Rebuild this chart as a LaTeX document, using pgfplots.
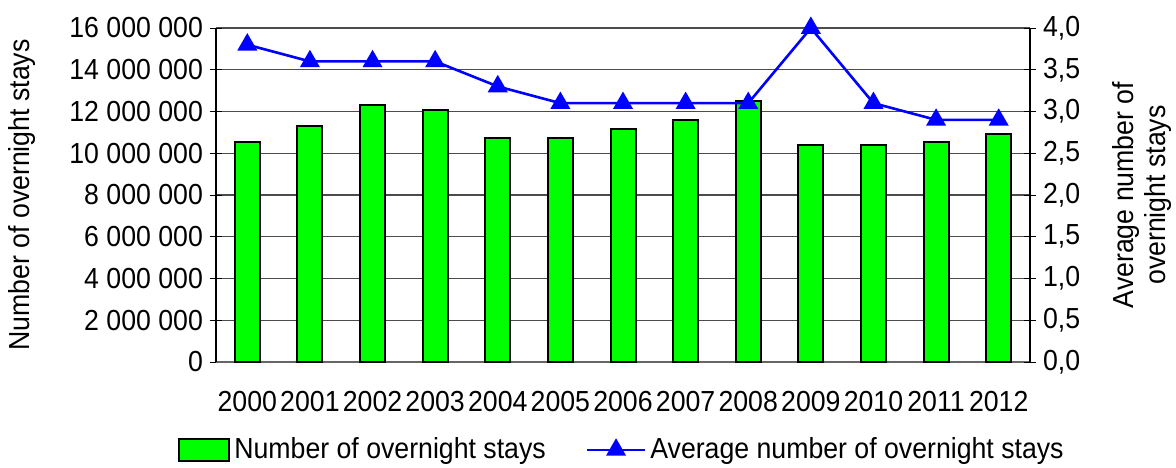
\documentclass[border=0pt]{standalone}
\usepackage{fontspec}
\setmainfont{Liberation Sans}[FakeStretch=0.92]
\usepackage{pgfplots}
\pgfplotsset{compat=1.18}
\usetikzlibrary{calc}
\definecolor{bargreen}{RGB}{0,255,0}
\definecolor{lineblue}{RGB}{0,0,255}
\begin{document}
\begin{tikzpicture}[font=\fontsize{14.5}{16}\selectfont]
\begin{axis}[name=ax1, scale only axis, width=407pt, height=167pt,
  xmin=-0.5, xmax=12.5, ymin=0, ymax=16000000,
  axis y line*=left, axis x line*=bottom,
  xtick={0,...,12},
  xticklabels={2000,2001,2002,2003,2004,2005,2006,2007,2008,2009,2010,2011,2012},
  x tick style={draw=none},
  minor xtick={-0.5,0.5,...,12.5},
  minor x tick style={black, thin},
  minor tick length=7pt,
  xticklabel style={yshift=-8pt},
  ytick distance=2000000,
  scaled y ticks=false,
  y tick label style={/pgf/number format/.cd, fixed, 1000 sep={\ }, assume math mode=true},
  ymajorgrids, grid style={black!70, line width=0.6pt},
  tick align=center, major tick length=6pt,
  y tick style={black, thin},
  y axis line style={black, line width=0.8pt},
  x axis line style={black!60, line width=0.8pt},
  ylabel={Number of overnight stays},
  ylabel style={yshift=10pt},
  clip=false,
]
\addplot[ybar, bar width=12.5pt, fill=bargreen, draw=black, line width=1pt]
  coordinates {(0,10550000) (1,11320000) (2,12310000) (3,12070000) (4,10750000)
  (5,10740000) (6,11170000) (7,11590000) (8,12500000) (9,10400000) (10,10390000)
  (11,10550000) (12,10930000)};
\end{axis}
\begin{axis}[name=ax2, scale only axis, width=407pt, height=167pt,
  xmin=-0.5, xmax=12.5, ymin=0, ymax=4,
  axis y line*=right, axis x line=none,
  ytick distance=0.5,
  y tick label style={/pgf/number format/.cd, fixed, fixed zerofill, precision=1, use comma, assume math mode=true},
  tick align=center, major tick length=6pt,
  y tick style={black, thin},
  y axis line style={black, line width=0.8pt},
  ylabel={Average number of\\overnight stays},
  ylabel style={align=center, yshift=-9.5pt},
  legend style={at={(0.5,-0.263)}, anchor=center, draw=none, legend columns=2,
    /tikz/every even column/.append style={column sep=18pt}},
  clip=false,
]
\addlegendimage{legend image code/.code={\draw[fill=bargreen, draw=black, line width=1pt] (0pt,-5.5pt) rectangle (25pt,5.5pt);}}
\addlegendentry{Number of overnight stays}
\addplot[lineblue, line width=1.3pt, mark=triangle*, mark size=4.5pt,
  mark options={solid},
  legend image code/.code={\draw[mark repeat=2,mark phase=2] plot coordinates {(0pt,0pt) (14.5pt,0pt) (29pt,0pt)};}]
  coordinates {(0,3.8) (1,3.6) (2,3.6) (3,3.6) (4,3.3) (5,3.1) (6,3.1) (7,3.1)
  (8,3.1) (9,4.0) (10,3.1) (11,2.9) (12,2.9)};
\addlegendentry{Average number of overnight stays}
\end{axis}
\pgfresetboundingbox
\path ($(ax1.south west)+(-108pt,-52.5pt)$) rectangle ($(ax1.north east)+(73pt,14pt)$);
\end{tikzpicture}
\end{document}
